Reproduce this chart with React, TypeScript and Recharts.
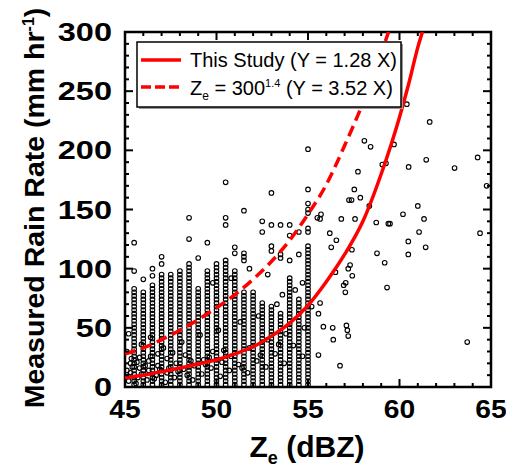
import React from "react";
import {
  ScatterChart,
  Scatter,
  XAxis,
  YAxis,
  ReferenceArea,
} from "recharts";

// dense columns of gauge points (dBZ binned every 0.5)
const colX = [45.5, 46, 46.5, 47, 47.5, 48, 48.5, 49, 49.5, 50, 50.5, 51, 51.5, 52, 52.5, 53, 53.5, 54, 54.5, 55];
const colY = [
  [2, 5, 8, 11, 14, 17, 20, 23, 26, 29, 32, 35, 38, 41, 44, 47, 50, 53, 56, 59, 62, 65, 68, 71, 74, 77, 80, 83, 98, 122],
  [2, 5, 8, 11, 14, 17, 20, 23, 26, 29, 32, 35, 38, 41, 44, 47, 50, 53, 56, 59, 62, 65, 68, 71, 74, 77, 80, 91],
  [2, 5, 8, 11, 14, 17, 20, 23, 26, 29, 32, 35, 38, 41, 44, 47, 50, 53, 56, 59, 62, 65, 68, 71, 74, 77, 80, 83, 86, 94, 100],
  [2, 5, 8, 11, 14, 17, 20, 23, 26, 29, 32, 35, 38, 41, 44, 47, 50, 53, 56, 59, 62, 65, 68, 71, 74, 77, 80, 83, 86, 89, 92, 95, 104, 110],
  [2, 5, 8, 11, 14, 17, 20, 23, 26, 29, 32, 35, 38, 41, 44, 47, 50, 53, 56, 59, 62, 65, 68, 71, 74, 77, 80, 83, 86, 89, 92, 95],
  [2, 5, 8, 11, 14, 17, 20, 23, 26, 29, 32, 35, 38, 41, 44, 47, 50, 53, 56, 59, 62, 65, 68, 71, 74, 77, 80, 83, 86, 89, 92, 95, 98],
  [2, 5, 8, 11, 14, 17, 20, 23, 26, 29, 32, 35, 38, 41, 44, 47, 50, 53, 56, 59, 62, 65, 68, 71, 74, 77, 80, 83, 86, 89, 92, 95, 98, 101, 104, 125, 143],
  [2, 5, 8, 11, 14, 17, 20, 23, 26, 29, 32, 35, 38, 41, 44, 47, 50, 53, 56, 59, 62, 65, 68, 71, 74, 77, 80, 83, 109],
  [2, 5, 8, 11, 14, 17, 20, 23, 26, 29, 32, 35, 38, 41, 44, 47, 50, 53, 56, 59, 62, 65, 68, 71, 74, 77, 80, 83, 86, 89, 92, 95, 98, 122],
  [2, 5, 8, 11, 14, 17, 20, 23, 26, 29, 32, 35, 38, 41, 44, 47, 50, 53, 56, 59, 62, 65, 68, 71, 74, 77, 80, 83, 86, 89, 92, 95, 98, 101, 104],
  [2, 5, 8, 11, 14, 17, 20, 23, 26, 29, 32, 35, 38, 41, 44, 47, 50, 53, 56, 59, 62, 65, 68, 71, 74, 77, 80, 83, 86, 89, 92, 95, 98, 101, 104, 107, 137, 143, 173],
  [2, 5, 8, 11, 14, 17, 20, 23, 26, 29, 32, 35, 38, 41, 44, 47, 50, 53, 56, 59, 62, 65, 68, 71, 74, 77, 80, 83, 86, 89, 92, 95, 98, 113, 118],
  [2, 5, 8, 11, 14, 17, 20, 23, 26, 29, 32, 35, 38, 41, 44, 47, 50, 53, 56, 59, 62, 65, 68, 71, 74, 77, 80, 107, 110, 113, 149],
  [2, 5, 8, 11, 14, 17, 20, 23, 26, 29, 32, 35, 38, 41, 44, 47, 50, 53, 56, 59, 62, 65, 68, 71, 74, 77, 80],
  [2, 5, 8, 11, 14, 17, 20, 23, 26, 29, 32, 35, 38, 41, 44, 47, 50, 53, 56, 59, 62, 65, 68, 71, 131, 140],
  [2, 5, 8, 11, 14, 17, 20, 23, 26, 29, 32, 35, 38, 41, 44, 47, 50, 53, 56, 59, 62, 65, 68, 115, 119, 137, 164],
  [2, 5, 8, 11, 14, 17, 20, 23, 26, 29, 32, 35, 38, 41, 44, 47, 50, 53, 56, 59, 62, 109, 112, 137],
  [2, 5, 8, 11, 14, 17, 20, 23, 26, 29, 32, 35, 38, 41, 44, 47, 50, 53, 56, 59, 62, 65, 68, 71, 74, 77, 80, 83, 86, 89, 92, 107, 128, 137],
  [2, 5, 8, 11, 14, 17, 20, 23, 26, 29, 32, 35, 38, 41, 44, 47, 50, 53, 56, 59, 62, 65, 68, 71, 74, 112, 131],
  [2, 5, 8, 11, 14, 17, 20, 23, 26, 29, 32, 35, 38, 41, 44, 47, 50, 53, 56, 59, 62, 65, 68, 71, 74, 77, 80, 83, 86, 89, 92, 95, 98, 101, 104, 107, 110, 113, 116, 119, 131, 134, 147, 150, 155, 167, 201],
];

// off-column points in the low-reflectivity cloud
const cloudX = [45.2, 45.3, 45.3, 45.7, 45.8, 45.8, 46.2, 46.3, 46.3, 46.7, 46.8, 46.8, 47.2, 47.3, 47.3, 47.7, 47.8, 48.2, 48.3, 48.7, 48.8, 49.2, 49.3, 49.7, 49.8, 50.2, 50.3, 50.7, 50.8, 51.2, 51.7, 51.8, 52.2, 52.7, 52.8, 53.2, 53.7, 53.8, 54.2, 54.7, 54.8, 45.1, 45.2, 45.9, 46.4, 47.1, 48.1, 49.1, 50.1, 51.3, 52.3, 53.3, 53.6, 54.3, 54.7, 52.8, 51.8, 50.8, 49.8, 45.2, 45.4, 45.6, 45.9, 46.1, 46.6, 47.4, 47.9, 48.4, 49.4, 45.1, 45.35, 45.65, 46.4, 46.9, 47.6, 48.6, 49.6, 50.4, 51.4, 52.4, 53.4];
const cloudY = [5, 12, 20, 8, 16, 25, 6, 14, 22, 10, 18, 28, 4, 12, 24, 8, 20, 15, 27, 6, 18, 11, 23, 16, 30, 9, 21, 14, 26, 19, 12, 33, 22, 17, 40, 28, 20, 45, 35, 26, 50, 30, 45, 36, 42, 33, 38, 44, 48, 55, 60, 70, 78, 82, 88, 95, 100, 92, 88, 9, 17, 3, 11, 18, 7, 16, 13, 10, 19, 14, 24, 21, 26, 15, 29, 22, 25, 31, 16, 27, 36];

// sparse points at high reflectivity
const sparseX = [60.4, 61.65, 58.08, 58.42, 59.7, 64.27, 61.46, 59.06, 59.26, 60.5, 63.01, 57.73, 64.76, 57.53, 57.24, 57.38, 57.86, 55.71, 55.51, 55.66, 56.82, 57.57, 58.35, 61, 60.19, 61.34, 58.73, 59.39, 59.48, 56.19, 56.55, 56.27, 61.07, 64.4, 60.48, 61.43, 57.4, 58.77, 60.48, 59.19, 57.3, 57.2, 56.5, 57.42, 57.06, 56.95, 57.04, 59.32, 55.66, 55.57, 55.84, 56.35, 56.38, 57.1, 57.15, 57.2, 55.57, 56.75, 55.2, 63.7];
const sparseY = [239, 224, 208, 203, 205, 194, 192, 188, 189, 186, 185, 182, 170, 167, 158, 158, 160, 146, 143, 142, 142, 142, 153, 153, 146, 142, 139, 138, 138, 130, 124, 118, 131, 130, 123, 118, 116, 113, 112, 105, 103, 100, 97, 94, 88, 86, 80, 84, 71, 62, 51, 50, 40, 52, 48, 43, 27, 18, 68, 38];

// fitted curves
const studyX = [45, 46, 47, 48, 49, 50, 51, 52, 53, 54, 55, 56, 57, 58, 59, 60, 60.5, 61, 61.25];
const studyY = [8, 10, 13, 16, 19.5, 23, 28, 34, 43, 54, 69, 89, 112, 140, 180, 228, 256, 287, 300];
const mpX = [45, 46, 47, 48, 49, 50, 51, 52, 53, 54, 55, 56, 57, 58, 59, 59.4];
const mpY = [28, 33, 40, 48, 57, 67, 78, 91, 106, 124, 146, 171, 204, 240, 282, 300];

const xTicks = [45, 46, 47, 48, 49, 50, 51, 52, 53, 54, 55, 56, 57, 58, 59, 60, 61, 62, 63, 64, 65];
const yTicks = [0, 10, 20, 30, 40, 50, 60, 70, 80, 90, 100, 110, 120, 130, 140, 150, 160, 170, 180, 190, 200, 210, 220, 230, 240, 250, 260, 270, 280, 290, 300];

const W = 506;
const H = 467;
const TOP = 32;
const BOTTOM = 387;
const LEFT = 125;
const RIGHT = 491;
const RED = "#ff0000";
const FONT = "'Liberation Sans', Arial, Helvetica, sans-serif";

const points = [
  ...colX.flatMap((x, i) => colY[i].map((y) => ({ x, y }))),
  ...cloudX.map((x, i) => ({ x, y: cloudY[i] })),
  ...sparseX.map((x, i) => ({ x, y: sparseY[i] })),
];
const study = studyX.map((x, i) => ({ x, y: studyY[i] }));
const mp = mpX.map((x, i) => ({ x, y: mpY[i] }));

const Dot = (p: any) => (
  <circle cx={p.cx} cy={p.cy} r={2.3} fill="none" stroke="#000" strokeWidth={1.1} />
);
const NoDot = () => <g />;

const XTick = (props: any) => {
  const { x, payload } = props;
  const v = payload.value;
  const major = v % 5 === 0;
  const len = major ? 8 : 4;
  return (
    <g>
      <line x1={x} x2={x} y1={BOTTOM} y2={BOTTOM - len} stroke="#000" strokeWidth={2} />
      <line x1={x} x2={x} y1={TOP} y2={TOP + len} stroke="#000" strokeWidth={2} />
      {major && (
        <text
          transform={`translate(${x},${BOTTOM + 31}) scale(1.13,1)`}
          textAnchor="middle"
          fontFamily={FONT}
          fontWeight="bold"
          fontSize={25}
          fill="#000"
        >
          {v}
        </text>
      )}
    </g>
  );
};

const YTick = (props: any) => {
  const { y, payload } = props;
  const v = payload.value;
  const major = v % 50 === 0;
  const len = major ? 8 : 4;
  return (
    <g>
      <line x1={LEFT} x2={LEFT + len} y1={y} y2={y} stroke="#000" strokeWidth={2} />
      <line x1={RIGHT} x2={RIGHT - len} y1={y} y2={y} stroke="#000" strokeWidth={2} />
      {major && (
        <text
          transform={`translate(112,${y + 9}) scale(1.3,1)`}
          textAnchor="end"
          fontFamily={FONT}
          fontWeight="bold"
          fontSize={25}
          fill="#000"
        >
          {v}
        </text>
      )}
    </g>
  );
};

export default function App() {
  return (
    <div style={{ position: "absolute", left: 0, top: 0, width: W, height: H, background: "#fff" }}>
      <ScatterChart width={W} height={H} margin={{ top: TOP, right: W - RIGHT, bottom: 0, left: 0 }}>
        <XAxis
          type="number"
          dataKey="x"
          domain={[45, 65]}
          ticks={xTicks}
          interval={0}
          height={H - BOTTOM}
          axisLine={false}
          tickLine={false}
          tick={<XTick />}
          allowDataOverflow
        />
        <YAxis
          type="number"
          dataKey="y"
          domain={[0, 300]}
          ticks={yTicks}
          interval={0}
          width={LEFT}
          axisLine={false}
          tickLine={false}
          tick={<YTick />}
          allowDataOverflow
        />
        <Scatter data={points} shape={Dot} isAnimationActive={false} />
        <Scatter
          data={mp}
          shape={NoDot}
          line={{ stroke: RED, strokeWidth: 3.5, strokeDasharray: "11 6" }}
          lineJointType="monotoneX"
          isAnimationActive={false}
        />
        <Scatter
          data={study}
          shape={NoDot}
          line={{ stroke: RED, strokeWidth: 3.5 }}
          lineJointType="monotoneX"
          isAnimationActive={false}
        />
        <ReferenceArea x1={45} x2={65} y1={0} y2={300} fill="none" stroke="#000" strokeWidth={2.5} ifOverflow="visible" />
      </ScatterChart>

      <svg width={W} height={H} style={{ position: "absolute", left: 0, top: 0, pointerEvents: "none" }}>
        {/* legend */}
        <rect x={139} y={44} width={264} height={65} fill="#999" />
        <rect x={137} y={42} width={264} height={65} fill="#fff" stroke="#000" strokeWidth={1.5} />
        <line x1={141} x2={181} y1={60} y2={60} stroke={RED} strokeWidth={3.5} />
        <line x1={141} x2={181} y1={87} y2={87} stroke={RED} strokeWidth={3.5} strokeDasharray="10 4" />
        <text x={190} y={67} fontFamily={FONT} fontSize={20} fill="#000">
          This Study (Y = 1.28 X)
        </text>
        <text x={190} y={95} fontFamily={FONT} fontSize={20} fill="#000">
          Z<tspan dy={5} fontSize={12}>e</tspan>
          <tspan dy={-5}> = 300</tspan>
          <tspan dy={-8} fontSize={11}>1.4</tspan>
          <tspan dy={8}> (Y = 3.52 X)</tspan>
        </text>

        {/* axis titles */}
        <text
          transform="translate(44,208) rotate(-90)"
          textAnchor="middle"
          fontFamily={FONT}
          fontWeight="bold"
          fontSize={28.5}
          fill="#000"
        >
          Measured Rain Rate (mm hr<tspan dy={-10} fontSize={16}>-1</tspan>
          <tspan dy={10}>)</tspan>
        </text>
        <text x={307} y={457} textAnchor="middle" fontFamily={FONT} fontWeight="bold" fontSize={30} fill="#000">
          Z<tspan dy={7} fontSize={18}>e</tspan>
          <tspan dy={-7}> (dBZ)</tspan>
        </text>
      </svg>
    </div>
  );
}
